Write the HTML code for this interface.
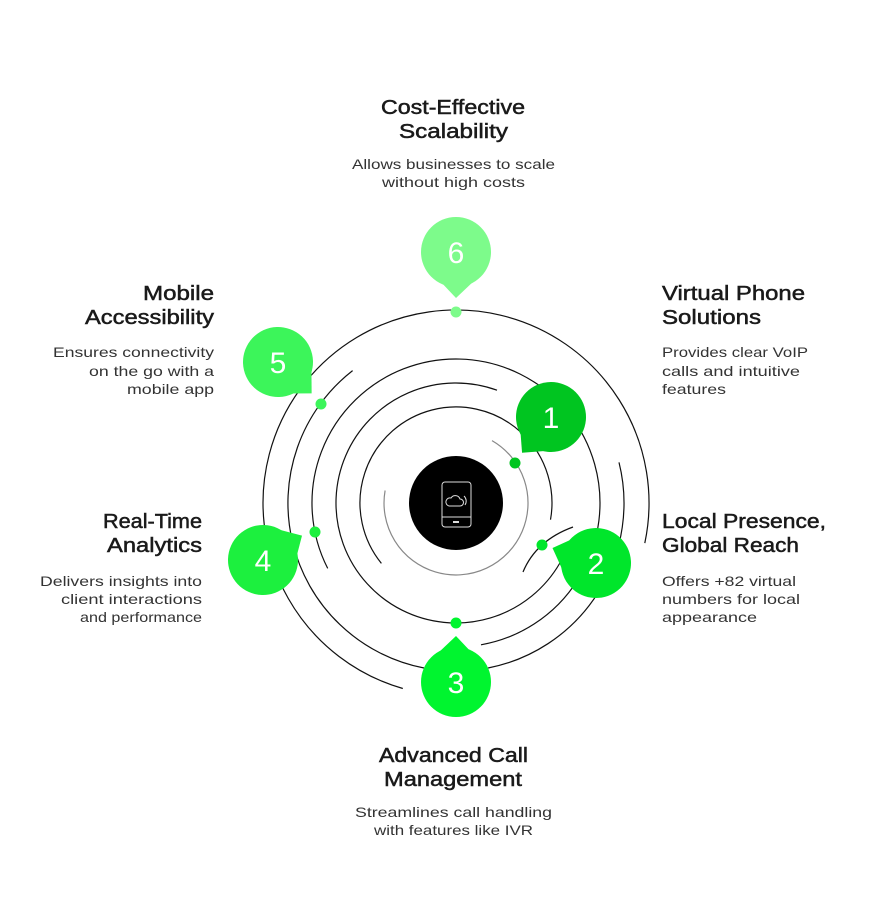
<!DOCTYPE html>
<html><head><meta charset="utf-8"><style>
html,body{margin:0;padding:0;background:#fff;}
svg{display:block;}
.t{font-family:"Liberation Sans",sans-serif;font-size:20px;font-weight:normal;fill:#1a1a1a;stroke:#1a1a1a;stroke-width:0.5;}
.d{font-family:"Liberation Sans",sans-serif;font-size:14px;fill:#333;}
.n{font-family:"Liberation Sans",sans-serif;font-size:30px;fill:#fff;text-anchor:middle;}
</style></head><body>
<svg width="876" height="900" viewBox="0 0 876 900" xmlns="http://www.w3.org/2000/svg">
<rect width="876" height="900" fill="#fff"/>
<g fill="none" stroke="#111" stroke-width="1.2">
<path d="M492 440.6 A72 72 0 1 1 385.1 490.5" stroke="#888"/>
<path d="M381.4 563.4 A96 96 0 1 1 550.5 519.7"/>
<path d="M573 527 Q536 540.5 523 572"/>
<path d="M559.9 563 A120 120 0 1 1 497 390.2"/>
<path d="M327.7 568.4 A144 144 0 1 1 481 644.8"/>
<path d="M424 668 A168 168 0 0 1 352.6 370.6"/>
<path d="M619 462.4 A168 168 0 0 1 488.1 668"/>
<path d="M402.8 688.5 A193 193 0 1 1 644.8 543.1"/>
</g>
<circle cx="456" cy="503" r="47" fill="#000"/>
<g fill="none" stroke="#ddd" stroke-width="1">
<rect x="442" y="482" width="29" height="45" rx="3"/>
<line x1="442" y1="517" x2="471" y2="517"/>
<path d="M449 506 h11 a3.5 3.5 0 0 0 0 -7 a5 5 0 0 0 -9 -1 a4 4 0 0 0 -2 8z"/>
<path d="M464 496 a7 7 0 0 1 1 9"/>
</g>
<rect x="453" y="521" width="6" height="2" fill="#ddd"/>

<g transform="translate(551,417) rotate(39)"><circle r="35" fill="#00c520"/><path d="M-17 28 L19 28 L0 46Z" fill="#00c520"/></g>
<text x="551" y="428" class="n">1</text>
<g transform="translate(596,563) rotate(109)"><circle r="35" fill="#00e62b"/><path d="M-17 28 L19 28 L0 46Z" fill="#00e62b"/></g>
<text x="596" y="574" class="n">2</text>
<g transform="translate(456,682) rotate(180)"><circle r="35" fill="#00f52f"/><path d="M-17 28 L19 28 L0 46Z" fill="#00f52f"/></g>
<text x="456" y="693" class="n">3</text>
<g transform="translate(263,560) rotate(-122)"><circle r="35" fill="#1cf03e"/><path d="M-17 28 L19 28 L0 46Z" fill="#1cf03e"/></g>
<text x="263" y="571" class="n">4</text>
<g transform="translate(278,362) rotate(-47)"><circle r="35" fill="#3cf55a"/><path d="M-17 28 L19 28 L0 46Z" fill="#3cf55a"/></g>
<text x="278" y="373" class="n">5</text>
<g transform="translate(456,252)"><circle r="35" fill="#7dfb8b"/><path d="M-17 28 L19 28 L0 46Z" fill="#7dfb8b"/></g>
<text x="456" y="263" class="n">6</text>

<circle cx="515" cy="463" r="5.5" fill="#00c520"/>
<circle cx="542" cy="545" r="5.5" fill="#00e62b"/>
<circle cx="456" cy="623" r="5.5" fill="#00f52f"/>
<circle cx="315" cy="532" r="5.5" fill="#1cf03e"/>
<circle cx="321" cy="404" r="5.5" fill="#3cf55a"/>
<circle cx="456" cy="312" r="5.5" fill="#7dfb8b"/>

<g>
<text class="t" x="381" y="114" textLength="144" lengthAdjust="spacingAndGlyphs">Cost-Effective</text>
<text class="t" x="399" y="138" textLength="109" lengthAdjust="spacingAndGlyphs">Scalability</text>
<text class="d" x="352" y="169" textLength="203" lengthAdjust="spacingAndGlyphs">Allows businesses to scale</text>
<text class="d" x="382" y="187" textLength="143" lengthAdjust="spacingAndGlyphs">without high costs</text>

<text class="t" x="662" y="300" textLength="143" lengthAdjust="spacingAndGlyphs">Virtual Phone</text>
<text class="t" x="662" y="324" textLength="99" lengthAdjust="spacingAndGlyphs">Solutions</text>
<text class="d" x="662" y="357" textLength="146" lengthAdjust="spacingAndGlyphs">Provides clear VoIP</text>
<text class="d" x="662" y="376" textLength="138" lengthAdjust="spacingAndGlyphs">calls and intuitive</text>
<text class="d" x="662" y="394" textLength="64" lengthAdjust="spacingAndGlyphs">features</text>

<text class="t" x="662" y="528" textLength="164" lengthAdjust="spacingAndGlyphs">Local Presence,</text>
<text class="t" x="662" y="552" textLength="137" lengthAdjust="spacingAndGlyphs">Global Reach</text>
<text class="d" x="662" y="586" textLength="134" lengthAdjust="spacingAndGlyphs">Offers +82 virtual</text>
<text class="d" x="662" y="604" textLength="138" lengthAdjust="spacingAndGlyphs">numbers for local</text>
<text class="d" x="662" y="622" textLength="95" lengthAdjust="spacingAndGlyphs">appearance</text>

<text class="t" x="379" y="762" textLength="149" lengthAdjust="spacingAndGlyphs">Advanced Call</text>
<text class="t" x="384" y="786" textLength="138" lengthAdjust="spacingAndGlyphs">Management</text>
<text class="d" x="355" y="817" textLength="197" lengthAdjust="spacingAndGlyphs">Streamlines call handling</text>
<text class="d" x="374" y="835" textLength="159" lengthAdjust="spacingAndGlyphs">with features like IVR</text>

<text class="t" x="103" y="528" textLength="99" lengthAdjust="spacingAndGlyphs">Real-Time</text>
<text class="t" x="107" y="552" textLength="95" lengthAdjust="spacingAndGlyphs">Analytics</text>
<text class="d" x="40" y="586" textLength="162" lengthAdjust="spacingAndGlyphs">Delivers insights into</text>
<text class="d" x="61" y="604" textLength="141" lengthAdjust="spacingAndGlyphs">client interactions</text>
<text class="d" x="80" y="622" textLength="122" lengthAdjust="spacingAndGlyphs">and performance</text>

<text class="t" x="143" y="300" textLength="71" lengthAdjust="spacingAndGlyphs">Mobile</text>
<text class="t" x="85" y="324" textLength="129" lengthAdjust="spacingAndGlyphs">Accessibility</text>
<text class="d" x="53" y="357" textLength="161" lengthAdjust="spacingAndGlyphs">Ensures connectivity</text>
<text class="d" x="89" y="376" textLength="125" lengthAdjust="spacingAndGlyphs">on the go with a</text>
<text class="d" x="127" y="394" textLength="87" lengthAdjust="spacingAndGlyphs">mobile app</text>
</g>
</svg>
</body></html>
